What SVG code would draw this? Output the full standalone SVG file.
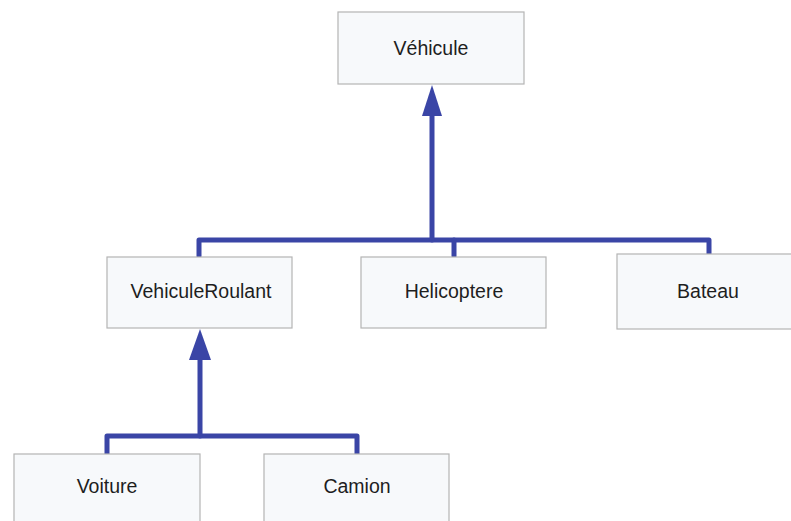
<svg xmlns="http://www.w3.org/2000/svg" width="791" height="521" viewBox="0 0 791 521">
  <style>
    .box { fill: #f7f9fb; stroke: #b4b4b4; stroke-width: 1.2; }
    .lbl { font-family: "Liberation Sans", Arial, sans-serif; font-size: 19.5px; fill: #1e1e1e; text-anchor: middle; }
    .link { fill: none; stroke: #3a45a6; stroke-width: 5; stroke-linejoin: round; stroke-linecap: round; }
    .head { fill: #3a45a6; }
  </style>
  <rect width="791" height="521" fill="#ffffff"/>

  <g id="connectors">
    <!-- Vehicule <- VehiculeRoulant / Helicoptere / Bateau -->
    <path class="link" d="M199,256 V240 H709 V256"/>
    <path class="link" d="M454,240 V256"/>
    <path class="link" d="M432,240 V112"/>
    <polygon class="head" points="432,85 422,116 442,116"/>
    <!-- VehiculeRoulant <- Voiture / Camion -->
    <path class="link" d="M107,454 V436 H357 V454"/>
    <path class="link" d="M200,436 V357"/>
    <polygon class="head" points="200,329 189,360 211,360"/>
  </g>

  <g id="vehicule">
    <rect class="box" x="338" y="12" width="186" height="72"/>
    <text class="lbl" x="431" y="55">Véhicule</text>
  </g>
  <g id="vehiculeRoulant">
    <rect class="box" x="107" y="257" width="185" height="71"/>
    <text class="lbl" x="201" y="298">VehiculeRoulant</text>
  </g>
  <g id="helicoptere">
    <rect class="box" x="361" y="257" width="185" height="71"/>
    <text class="lbl" x="454" y="298">Helicoptere</text>
  </g>
  <g id="bateau">
    <rect class="box" x="617" y="254" width="180" height="75"/>
    <text class="lbl" x="708" y="298">Bateau</text>
  </g>
  <g id="voiture">
    <rect class="box" x="14" y="454" width="186" height="80"/>
    <text class="lbl" x="107" y="493">Voiture</text>
  </g>
  <g id="camion">
    <rect class="box" x="264" y="454" width="185" height="80"/>
    <text class="lbl" x="357" y="493">Camion</text>
  </g>
</svg>
